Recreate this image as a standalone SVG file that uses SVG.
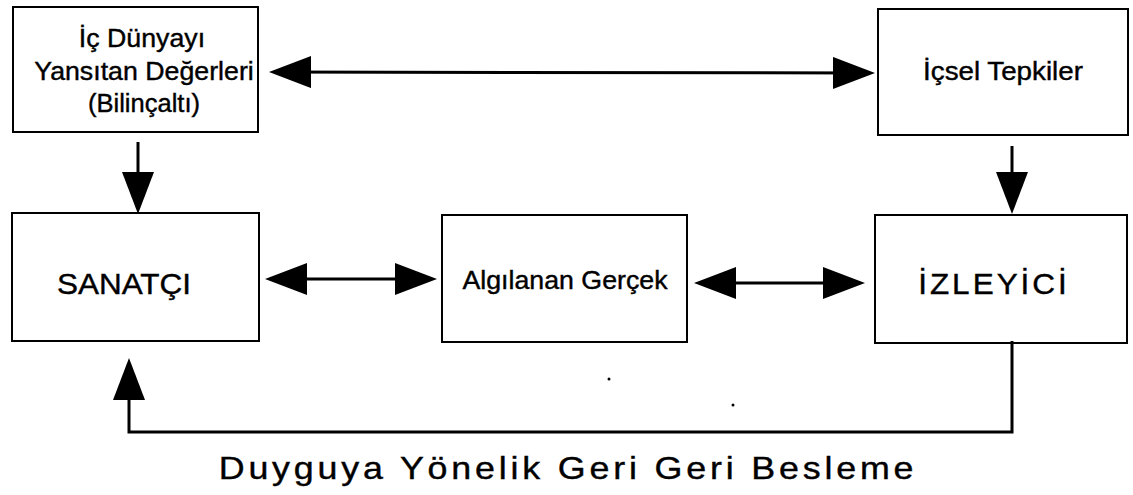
<svg xmlns="http://www.w3.org/2000/svg" width="1133" height="495" viewBox="0 0 1133 495">
  <style>
    .box { fill: #ffffff; stroke: #000000; stroke-width: 2; }
    .lbl { font-family: "Liberation Sans", Arial, sans-serif; fill: #000000; stroke: #000000; stroke-width: 0.4; text-anchor: middle; }
    .sm { font-size: 25px; }
    .lg { font-size: 30px; }
    .ft { font-size: 32px; letter-spacing: 3.4px; }
    .wire { fill: none; stroke: #000000; stroke-width: 3; }
  </style>
  <defs>
    <!-- solid triangular arrowhead, tip sits 5px past the line end -->
    <marker id="head" viewBox="0 0 42 32" markerWidth="42" markerHeight="32" refX="37" refY="16" orient="auto-start-reverse" markerUnits="userSpaceOnUse">
      <path d="M0,0 L42,16 L0,32 Z" fill="#000000"/>
    </marker>
  </defs>
  <rect width="1133" height="495" fill="#ffffff"/>

  <g id="node-ic-dunya">
    <rect class="box" x="13" y="7" width="245" height="125"/>
    <text class="lbl sm" transform="translate(142,47) scale(1.07,1)">İç Dünyayı</text>
    <text class="lbl sm" transform="translate(144,80) scale(1.07,1)">Yansıtan Değerleri</text>
    <text class="lbl sm" transform="translate(144,112) scale(1.02,1)">(Bilinçaltı)</text>
  </g>

  <g id="node-icsel-tepkiler">
    <rect class="box" x="878" y="9" width="250" height="126"/>
    <text class="lbl sm" transform="translate(1003,80) scale(1.11,1)">İçsel Tepkiler</text>
  </g>

  <g id="node-sanatci">
    <rect class="box" x="12" y="213" width="247" height="128"/>
    <text class="lbl lg" transform="translate(124,294) scale(1.05,1)">SANATÇI</text>
  </g>

  <g id="node-algilanan">
    <rect class="box" x="442" y="215" width="245" height="127"/>
    <text class="lbl sm" transform="translate(565,289) scale(1.07,1)">Algılanan Gerçek</text>
  </g>

  <g id="node-izleyici">
    <rect class="box" x="875" y="215" width="252" height="128"/>
    <text class="lbl lg" transform="translate(994,294) scale(1.05,1)" letter-spacing="2.85">İZLEYİCİ</text>
  </g>

  <g id="connectors">
    <line class="wire" x1="274" y1="72" x2="870" y2="73" marker-start="url(#head)" marker-end="url(#head)"/>
    <line class="wire" x1="138" y1="142" x2="138" y2="209" marker-end="url(#head)"/>
    <line class="wire" x1="1012" y1="146" x2="1012" y2="209" marker-end="url(#head)"/>
    <line class="wire" x1="270" y1="279" x2="432" y2="279" marker-start="url(#head)" marker-end="url(#head)"/>
    <line class="wire" x1="699" y1="283" x2="860" y2="283" marker-start="url(#head)" marker-end="url(#head)"/>
    <path class="wire" d="M1012,341 V432 H129 V363" marker-end="url(#head)"/>
  </g>

  <g id="caption">
    <text class="lbl ft" transform="translate(568,479) scale(1.12,1)">Duyguya Yönelik Geri Geri Besleme</text>
  </g>

  <g id="specks" fill="#000000">
    <circle cx="609" cy="379" r="1.5"/>
    <circle cx="733" cy="405" r="1.5"/>
  </g>
</svg>
